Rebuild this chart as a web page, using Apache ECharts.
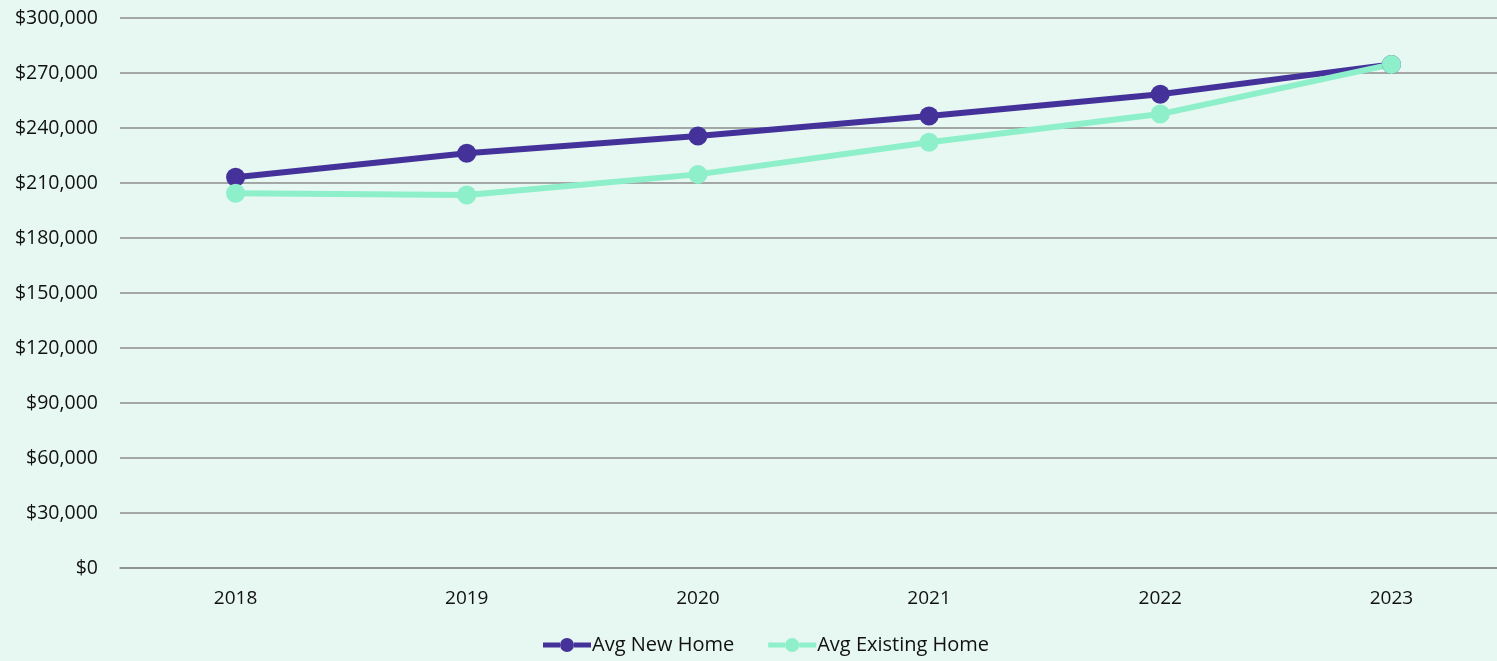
<!DOCTYPE html>
<html>
<head>
<meta charset="utf-8">
<script src="https://cdn.jsdelivr.net/npm/echarts@6/dist/echarts.min.js"></script>
<style>
html,body{margin:0;padding:0;background:#E6F8F1;overflow:hidden;width:1497px;height:661px;}
#c{width:1507px;height:661px;}
</style>
</head>
<body>
<div id="c"></div>
<script>
var years = ['2018','2019','2020','2021','2022','2023'];
var avgNewHome = [213100, 226200, 235600, 246500, 258400, 274700];
var avgExistingHome = [204400, 203500, 214700, 232200, 247600, 274700];
var seriesNames = ['Avg New Home', 'Avg Existing Home'];

var chart = echarts.init(document.getElementById('c'));
var font = '"Open Sans", "Noto Sans", sans-serif';
chart.setOption({
  backgroundColor: '#E6F8F1',
  animation: false,
  grid: {left: 120, top: 18, bottom: 93, right: 0, containLabel: false},
  legend: {
    data: seriesNames,
    bottom: 1,
    left: 538,
    itemWidth: 48,
    itemHeight: 15,
    itemGap: 34,
    textStyle: {fontFamily: font, fontSize: 20, color: '#111', padding: [0,0,0,-4]},
    icon: 'path://M0,5 L17,5 L17,10 L0,10 Z M31,5 L48,5 L48,10 L31,10 Z M17,7.5 A7,7 0 1 1 31,7.5 A7,7 0 1 1 17,7.5 Z'
  },
  xAxis: {
    type: 'category',
    data: years,
    boundaryGap: true,
    axisLine: {lineStyle: {color: '#8c8c8c', width: 1.5}},
    axisTick: {show: false},
    axisLabel: {fontFamily: font, fontSize: 19, color: '#111', margin: 21}
  },
  yAxis: {
    type: 'value',
    min: 0, max: 300000, interval: 30000,
    axisLine: {show: false},
    axisTick: {show: false},
    splitLine: {lineStyle: {color: '#8c8c8c', width: 1.5}},
    axisLabel: {
      fontFamily: font, fontSize: 19.5, color: '#111', margin: 22,
      formatter: function(v){ return '$' + v.toLocaleString('en-US'); }
    }
  },
  series: [
    {
      name: seriesNames[0], type: 'line', data: avgNewHome,
      symbol: 'circle', symbolSize: 19,
      lineStyle: {color: '#44329A', width: 6},
      itemStyle: {color: '#44329A'}
    },
    {
      name: seriesNames[1], type: 'line', data: avgExistingHome,
      symbol: 'circle', symbolSize: 19,
      lineStyle: {color: '#8EEFCB', width: 6},
      itemStyle: {color: '#8EEFCB'}
    }
  ]
});
</script>
</body>
</html>
